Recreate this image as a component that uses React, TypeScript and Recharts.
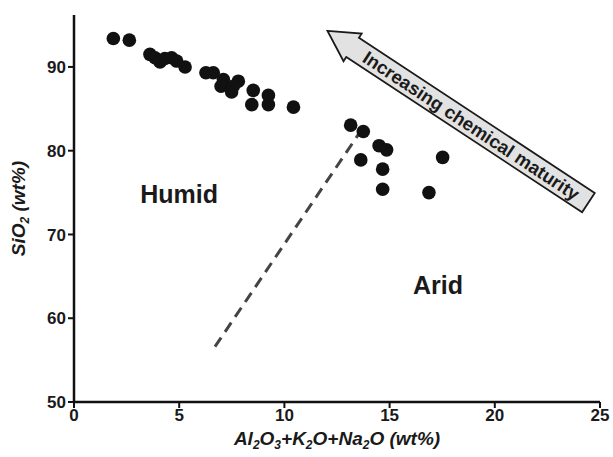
import { ScatterChart, Scatter, XAxis, YAxis, ReferenceLine, ReferenceDot, Label } from "recharts";

// Al2O3+K2O+Na2O (wt%) and SiO2 (wt%) per sample
const alumina = [
  1.87, 2.63, 3.61, 3.85, 4.09, 4.32, 4.64, 4.88, 5.28, 6.27, 6.62, 7.1, 6.99, 7.49, 7.81,
  7.57, 8.52, 8.45, 9.24, 9.24, 10.43, 13.15, 13.75, 14.5, 14.86, 13.63, 14.67, 14.67, 17.52,
  16.87,
];
const silica = [
  93.4, 93.2, 91.5, 91.1, 90.6, 91.0, 91.1, 90.7, 90.0, 89.3, 89.3, 88.5, 87.7, 87.0, 88.3,
  87.7, 87.2, 85.5, 86.6, 85.5, 85.2, 83.05, 82.3, 80.6, 80.1, 78.9, 77.8, 75.4, 79.2, 75.0,
];

const xTicks = [0, 5, 10, 15, 20, 25];
const yTicks = [50, 60, 70, 80, 90];

// dashed humid/arid divider, [start, end]
const dividerX = [6.7, 13.83];
const dividerY = [56.6, 83.1];

// maturity arrow, tip then tail
const arrowX = [12.05, 24.45];
const arrowY = [94.3, 73.8];
const arrowText = "Increasing chemical maturity";

const regionNames = ["Humid", "Arid"];
const regionX = [5.0, 17.3];
const regionY = [74.8, 64.0];

const FONT = "'Liberation Sans', Arial, Helvetica, sans-serif";

const points = alumina.map((x, i) => ({ x, y: silica[i] }));

// eslint-disable-next-line @typescript-eslint/no-explicit-any
const ArrowShape = (props: any) => {
  const { x1, y1, x2, y2 } = props;
  const dx = x2 - x1;
  const dy = y2 - y1;
  const len = Math.sqrt(dx * dx + dy * dy);
  const angle = (Math.atan2(dy, dx) * 180) / Math.PI;
  const head = 30;
  const hw = 16.5;
  const bw = 11.5;
  const pts = [
    [0, 0],
    [head, -hw],
    [head, -bw],
    [len, -bw],
    [len, bw],
    [head, bw],
    [head, hw],
  ]
    .map((p) => p.join(","))
    .join(" ");
  return (
    <g transform={`translate(${x1},${y1}) rotate(${angle})`}>
      <polygon points={pts} fill="#e2e2e2" stroke="#1a1a1a" strokeWidth={1.8} strokeLinejoin="miter" />
      <text
        x={(head + len) / 2 + 1}
        y={0}
        dy="0.36em"
        textAnchor="middle"
        fontFamily={FONT}
        fontWeight="bold"
        fontSize={18.5}
        fill="#1a1a1a"
      >
        {arrowText}
      </text>
    </g>
  );
};

// eslint-disable-next-line @typescript-eslint/no-explicit-any
const XTitle = ({ viewBox }: any) => {
  const cx = viewBox.x + viewBox.width / 2;
  const y = viewBox.y + viewBox.height;
  const sub = (d: string) => (
    <tspan dy={4} fontSize={12}>
      {d}
    </tspan>
  );
  return (
    <text x={cx} y={y} textAnchor="middle" fontFamily={FONT} fontWeight="bold" fontStyle="italic" fontSize={19} fill="#1a1a1a">
      Al{sub("2")}
      <tspan dy={-4}>O</tspan>
      {sub("3")}
      <tspan dy={-4}>+K</tspan>
      {sub("2")}
      <tspan dy={-4}>O+Na</tspan>
      {sub("2")}
      <tspan dy={-4}>O (wt%)</tspan>
    </text>
  );
};

// eslint-disable-next-line @typescript-eslint/no-explicit-any
const YTitle = ({ viewBox }: any) => {
  const cx = 25;
  const cy = viewBox.y + viewBox.height / 2;
  return (
    <text
      x={cx}
      y={cy}
      transform={`rotate(-90, ${cx}, ${cy})`}
      textAnchor="middle"
      fontFamily={FONT}
      fontWeight="bold"
      fontStyle="italic"
      fontSize={19}
      fill="#1a1a1a"
    >
      SiO
      <tspan dy={4} fontSize={12}>
        2
      </tspan>
      <tspan dy={-4}> (wt%)</tspan>
    </text>
  );
};

const tickStyle = { fill: "#1a1a1a", fontSize: 17, fontWeight: "bold", fontFamily: FONT };

export default function App() {
  return (
    <div style={{ position: "absolute", left: 0, top: 0, background: "#fff" }}>
      <ScatterChart width={613} height={457} margin={{ top: 15, right: 13, bottom: 12, left: 14 }}>
        <XAxis
          type="number"
          dataKey="x"
          xAxisId="main"
          domain={[0, 25]}
          ticks={xTicks}
          interval={0}
          height={43}
          tick={tickStyle}
          tickSize={6}
          tickMargin={1}
          axisLine={{ stroke: "#111", strokeWidth: 2.5 }}
          tickLine={{ stroke: "#111", strokeWidth: 2 }}
        >
          <Label content={<XTitle />} position="insideBottom" />
        </XAxis>
        <XAxis
          type="number"
          xAxisId="top"
          orientation="top"
          domain={[0, 25]}
          height={0}
          tick={false}
          tickLine={false}
          axisLine={{ stroke: "#111", strokeWidth: 2.5 }}
        />
        <YAxis
          type="number"
          dataKey="y"
          yAxisId="main"
          domain={[50, 96.2]}
          ticks={yTicks}
          interval={0}
          width={60}
          tick={tickStyle}
          tickSize={6}
          tickMargin={2}
          axisLine={{ stroke: "#111", strokeWidth: 2.5 }}
          tickLine={{ stroke: "#111", strokeWidth: 2 }}
        >
          <Label content={<YTitle />} />
        </YAxis>
        <YAxis
          type="number"
          yAxisId="right"
          orientation="right"
          domain={[50, 96.2]}
          width={0}
          tick={false}
          tickLine={false}
          axisLine={{ stroke: "#111", strokeWidth: 2.5 }}
        />
        <ReferenceLine
          xAxisId="main"
          yAxisId="main"
          segment={[
            { x: dividerX[0], y: dividerY[0] },
            { x: dividerX[1], y: dividerY[1] },
          ]}
          stroke="#444"
          strokeWidth={3}
          strokeDasharray="11 7"
        />
        <ReferenceLine
          xAxisId="main"
          yAxisId="main"
          ifOverflow="visible"
          segment={[
            { x: arrowX[0], y: arrowY[0] },
            { x: arrowX[1], y: arrowY[1] },
          ]}
          shape={ArrowShape}
        />
        {regionNames.map((name, i) => (
          <ReferenceDot
            key={name}
            xAxisId="main"
            yAxisId="main"
            x={regionX[i]}
            y={regionY[i]}
            r={0}
            stroke="none"
            label={{ value: name, position: "center", fontSize: 25, fontWeight: "bold", fill: "#1a1a1a", fontFamily: FONT }}
          />
        ))}
        <Scatter
          xAxisId="main"
          yAxisId="main"
          data={points}
          fill="#111"
          isAnimationActive={false}
          shape={(p: any) => <circle cx={p.cx} cy={p.cy} r={6.8} fill="#111" />}
        />
      </ScatterChart>
    </div>
  );
}
